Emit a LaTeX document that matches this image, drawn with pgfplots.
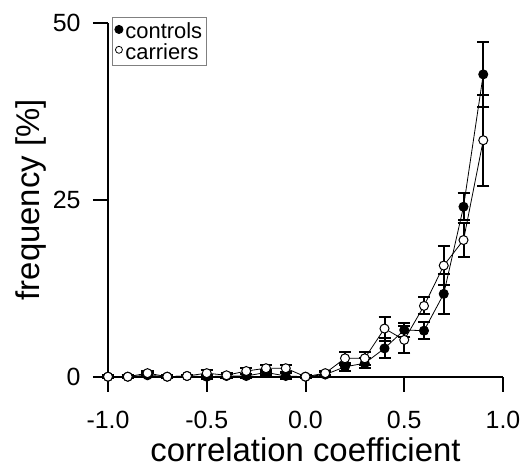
\documentclass[border=0pt]{standalone}
\usepackage{pgfplots}
\pgfplotsset{compat=1.18}
\usepackage{fontspec}
\setmainfont{Liberation Sans}
\begin{document}
\begin{tikzpicture}
\begin{axis}[
  scale only axis,
  width=395bp, height=354bp,
  xmin=-1, xmax=1, ymin=0, ymax=50,
  axis x line*=bottom, axis y line*=left,
  axis line style={line width=2.2bp, -},
  xtick={-1,-0.5,0,0.5,1},
  xticklabels={{-1.0},{-0.5},{0.0},{0.5},{1.0}},
  ytick={0,25,50},
  yticklabels={0,25,50},
  tick align=outside,
  major tick length=15bp,
  tick style={line width=2bp, black},
  minor tick num=0,
  ticklabel style={font=\fontsize{25}{28}\selectfont},
  xticklabel style={yshift=-16bp},
  yticklabel style={xshift=-9bp},
  xlabel={correlation coefficient},
  ylabel={frequency [\%]},
  label style={font=\fontsize{33}{38}\selectfont},
  xlabel style={yshift=-2bp},
  ylabel style={yshift=0bp},
  clip=false,
  legend style={at={(0.01,1.015)}, anchor=north west, draw=gray, line width=1bp,
    font=\fontsize{22}{24}\selectfont, inner xsep=2bp, inner ysep=3bp, row sep=-1bp,
    legend cell align=left},
  error bars/error bar style={line width=2bp, black},
  error bars/error mark options={rotate=90, mark size=6bp, line width=2bp, black},
]
\addplot[black, line width=0.8bp, mark=*, mark size=4.5bp, forget plot,
  mark options={fill=black, line width=1bp},
  error bars/.cd, y dir=both, y explicit]
coordinates {
(-1.0,0) +- (0,0.2)
(-0.9,0) +- (0,0.2)
(-0.8,0.2) +- (0,0.3)
(-0.7,0) +- (0,0.2)
(-0.6,0.1) +- (0,0.2)
(-0.5,0) +- (0,0.3)
(-0.4,0.1) +- (0,0.3)
(-0.3,0.1) +- (0,0.3)
(-0.2,0.6) +- (0,0.4)
(-0.1,0.1) +- (0,0.4)
(0.0,0) +- (0,0.2)
(0.1,0.3) +- (0,0.3)
(0.2,1.4) +- (0,0.6)
(0.3,1.9) +- (0,0.7)
(0.4,4.0) +- (0,1.4)
(0.5,6.6) +- (0,1.0)
(0.6,6.5) +- (0,1.2)
(0.7,11.7) +- (0,2.8)
(0.8,24.0) +- (0,1.9)
(0.9,42.7) +- (0,4.6)
};
\addplot[black, line width=0.8bp, mark=*, mark size=4.5bp, forget plot,
  mark options={fill=white, line width=1bp},
  error bars/.cd, y dir=both, y explicit]
coordinates {
(-1.0,0) +- (0,0.2)
(-0.9,0) +- (0,0.2)
(-0.8,0.5) +- (0,0.3)
(-0.7,0) +- (0,0.2)
(-0.6,0.1) +- (0,0.2)
(-0.5,0.5) +- (0,0.4)
(-0.4,0.2) +- (0,0.3)
(-0.3,0.8) +- (0,0.4)
(-0.2,1.2) +- (0,0.5)
(-0.1,1.2) +- (0,0.5)
(0.0,0) +- (0,0.2)
(0.1,0.5) +- (0,0.3)
(0.2,2.6) +- (0,0.9)
(0.3,2.6) +- (0,0.9)
(0.4,6.8) +- (0,1.7)
(0.5,5.2) +- (0,1.9)
(0.6,10.0) +- (0,1.2)
(0.7,15.7) +- (0,2.7)
(0.8,19.3) +- (0,2.4)
(0.9,33.4) +- (0,6.4)
};
\addlegendimage{legend image code/.code={\draw[black, fill=black] (0.1cm,0) circle (4bp);}}
\addlegendentry{controls}
\addlegendimage{legend image code/.code={\draw[black, fill=white, line width=0.8bp] (0.1cm,0) circle (3.5bp);}}
\addlegendentry{carriers}
\end{axis}
\pgfresetboundingbox
\path (current axis.south west) ++(-108bp,-94.3bp) rectangle ++(529bp,471bp);
\end{tikzpicture}
\end{document}
